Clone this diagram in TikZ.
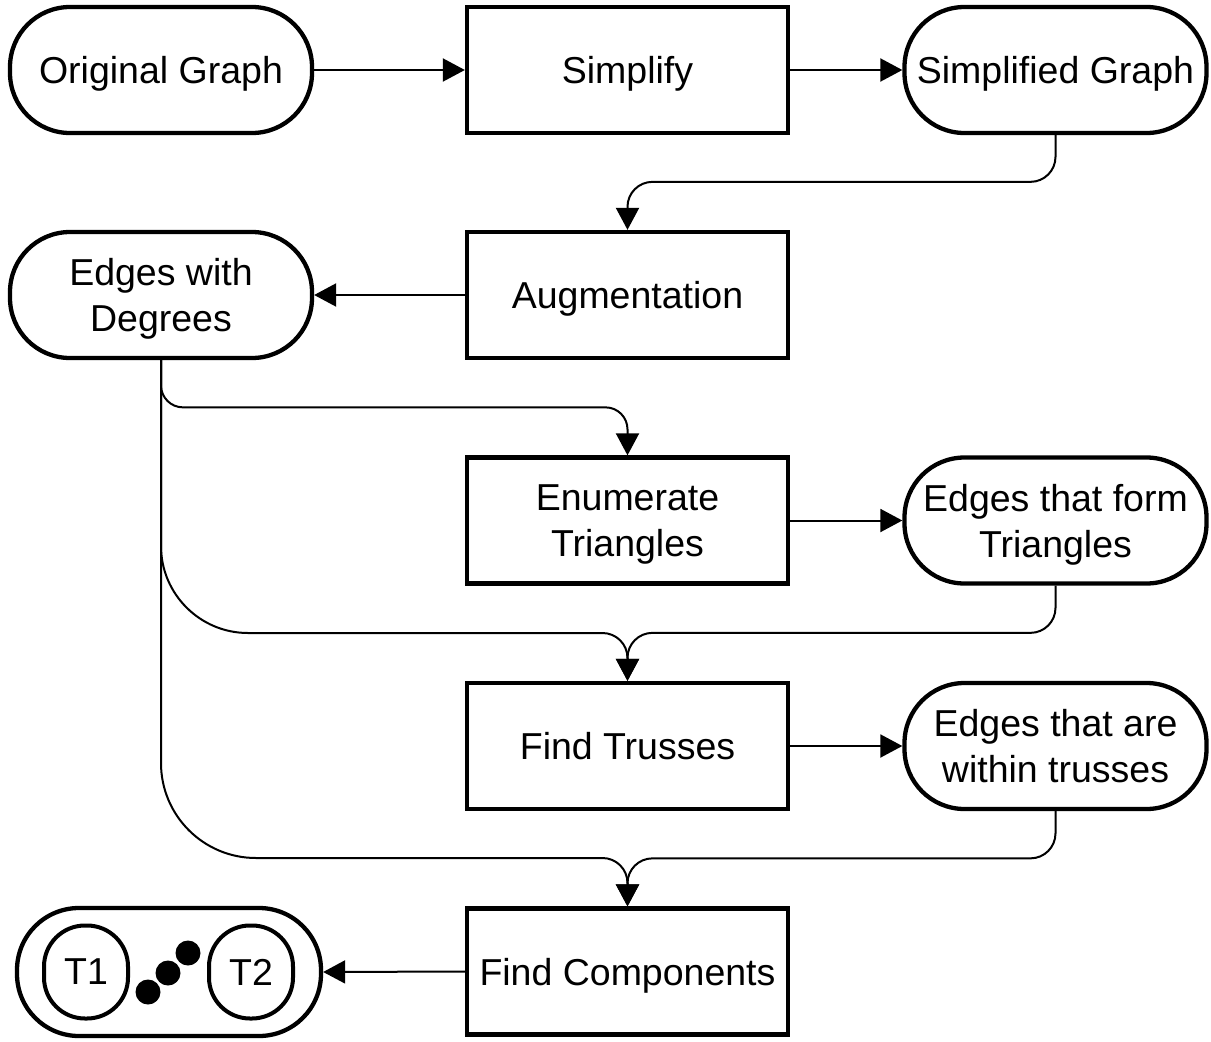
\documentclass[tikz,border=0pt]{standalone}
\usepackage{fontspec}
\setmainfont{Liberation Sans}
\usetikzlibrary{arrows.meta,calc}

\begin{document}
\begin{tikzpicture}[x=1pt,y=-1pt,
  every node/.append style={font=\fontsize{37.5}{46}\selectfont, align=center, text depth=0pt},
  procbox/.style={draw, line width=4.3pt, minimum width=321pt, minimum height=126pt, inner sep=0pt},
  databox/.style={draw, line width=4.3pt, rounded corners=60pt, minimum width=302pt, minimum height=126pt, inner sep=0pt},
  tokenbox/.style={draw, line width=4pt, rounded corners=41pt, minimum width=84pt, minimum height=93pt, inner sep=0pt},
  flow/.style={line width=2pt, -{Triangle[length=22pt,width=23pt]}},
  dot/.style={fill=black, circle, minimum size=25pt, inner sep=0pt}]

\useasboundingbox (0,0) rectangle (1211,1042);

% processing steps (middle column) and data stores (side columns)
\node[databox] (orig)   at (161,70)      {Original Graph};
\node[procbox] (simp)   at (627.5,70)    {Simplify};
\node[databox] (simpg)  at (1055.5,70)   {Simplified Graph};
\node[procbox] (aug)    at (627.5,295)   {Augmentation};
\node[databox] (deg)    at (161,295)     {Edges with\\Degrees};
\node[procbox] (enum)   at (627.5,520.5) {Enumerate\\Triangles};
\node[databox] (tri)    at (1055.5,520.5){Edges that form\\Triangles};
\node[procbox] (truss)  at (627.5,746)   {Find Trusses};
\node[databox] (within) at (1055.5,746)  {Edges that are\\within trusses};
\node[procbox] (comp)   at (627.5,971.5) {Find Components};

% resulting components
\node[databox, minimum width=304pt, minimum height=128pt, rounded corners=62pt] (res) at (169,972) {};
\node[tokenbox] (t1) at (86,972)  {T1};
\node[tokenbox] (t2) at (251,972) {T2};
\node[dot] (d1) at (148,992) {};
\node[dot] (d2) at (168,973) {};
\node[dot] (d3) at (188,953) {};

% straight arrows
\draw[flow] (orig.east) -- (simp.west);
\draw[flow] (simp.east) -- (simpg.west);
\draw[flow] (aug.west) -- (deg.east);
\draw[flow] (enum.east) -- (tri.west);
\draw[flow] (truss.east) -- (within.west);
\draw[flow] (comp.west) -- (res.east);

% returning arrows from the right column
\draw[flow, rounded corners=25pt] (simpg.south) |- ($(aug.north)+(0,-48)$) -- (aug.north);
\draw[flow, rounded corners=25pt] (tri.south) |- ($(truss.north)+(0,-48)$) -- (truss.north);
\draw[flow, rounded corners=25pt] (within.south) |- ($(comp.north)+(0,-48)$) -- (comp.north);

% degree information fed to the later steps
\draw[flow, rounded corners=22pt] (deg.south) |- ($(enum.north)+(0,-48)$) -- (enum.north);
\draw[flow] (deg.south) -- (161,546)
  .. controls (161,594) and (200,633) .. (248,633) -- (602.5,633)
  .. controls (616.3,633) and (627.5,644.2) .. (627.5,658) -- (truss.north);
\draw[flow] (deg.south) -- (161,763)
  .. controls (161,815.4) and (203.4,858) .. (256,858) -- (602.5,858)
  .. controls (616.3,858) and (627.5,869.2) .. (627.5,883) -- (comp.north);
\end{tikzpicture}
\end{document}
